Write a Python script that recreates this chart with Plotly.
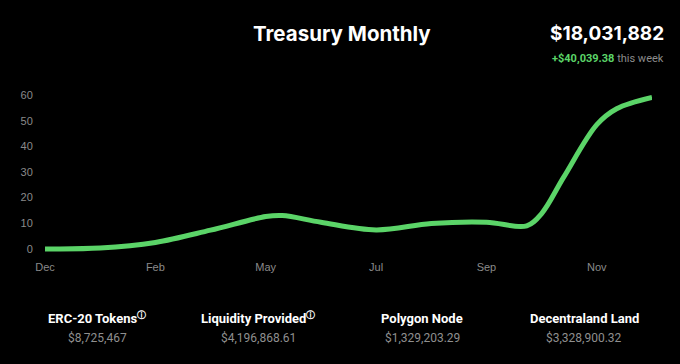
import plotly.graph_objects as go

# ---- data ----
month_pos = [0, 1, 2, 3, 4, 4.3, 5, 6, 7, 8, 8.73, 9, 9.4, 10, 10.36, 11]
treasury = [0, 0.3, 2.5, 7.3, 12.6, 13.0, 10.4, 7.4, 9.9, 10.4, 9.0, 13.8, 28, 48.5, 54.7, 59.1]
tick_pos = [0, 2, 4, 6, 8, 10]
tick_labels = ["Dec", "Feb", "May", "Jul", "Sep", "Nov"]
y_ticks = [0, 10, 20, 30, 40, 50, 60]

title_text = "Treasury Monthly"
total_text = "$18,031,882"
weekly_change = "+$40,039.38"
weekly_suffix = "this week"
asset_names = ["ERC-20 Tokens", "Liquidity Provided", "Polygon Node", "Decentraland Land"]
asset_values = ["$8,725,467", "$4,196,868.61", "$1,329,203.29", "$3,328,900.32"]
asset_info = [True, True, False, False]

GREEN = "#5bd468"
W_, H_ = 680, 364
L, R = 45, 28
T, B = 90, 110
PW, PH = W_ - L - R, H_ - T - B


def px(x):
    return (x - L) / PW


def py(y):
    return (H_ - B - y) / PH


fig = go.Figure()
fig.add_trace(go.Scatter(
    x=month_pos, y=treasury, mode="lines",
    line=dict(color=GREEN, width=5, shape="spline", smoothing=1.0),
    hoverinfo="skip", showlegend=False,
))

ann = []
ann.append(dict(text="<b>" + title_text + "</b>", x=px(342), y=py(34), xref="paper", yref="paper",
                showarrow=False, xanchor="center", yanchor="middle",
                font=dict(family="Inter, Lato, Roboto, sans-serif", size=20.5, color="white")))
ann.append(dict(text="<b>" + total_text + "</b>", x=px(666), y=py(34), xref="paper", yref="paper",
                showarrow=False, xanchor="right", yanchor="middle",
                font=dict(family="Inter, Lato, Roboto, sans-serif", size=19, color="white")))
ann.append(dict(text="<b><span style='color:%s'>%s</span></b> <span style='color:#8c8c8c'>%s</span>"
                % (GREEN, weekly_change, weekly_suffix),
                x=px(666), y=py(58), xref="paper", yref="paper",
                showarrow=False, xanchor="right", yanchor="middle",
                font=dict(family="Roboto, Liberation Sans, sans-serif", size=11, color="white")))

centers = [97, 258, 422, 584]
for cx, name, val, info in zip(centers, asset_names, asset_values, asset_info):
    label = "<b>" + name + "</b>"
    if info:
        label += "<sup><b>ⓘ</b></sup>"
    ann.append(dict(text=label, x=px(cx), y=py(318), xref="paper", yref="paper",
                    showarrow=False, xanchor="center", yanchor="middle",
                    font=dict(family="Liberation Sans Narrow, Roboto, sans-serif", size=13, color="white")))
    ann.append(dict(text=val, x=px(cx), y=py(338), xref="paper", yref="paper",
                    showarrow=False, xanchor="center", yanchor="middle",
                    font=dict(family="Liberation Sans Narrow, Roboto, sans-serif", size=12, color="#8f8f8f")))

fig.update_layout(
    width=W_, height=H_,
    margin=dict(l=L, r=R, t=T, b=B, autoexpand=False),
    paper_bgcolor="black", plot_bgcolor="black",
    annotations=ann,
    xaxis=dict(range=[0, 11], tickvals=tick_pos, ticktext=tick_labels, showgrid=False,
               zeroline=False, showline=False, ticks="outside", ticklen=3, tickcolor="black",
               tickfont=dict(family="Liberation Sans, Arial, sans-serif", size=11, color="#8a8a8a")),
    yaxis=dict(range=[-2, 62], tickvals=y_ticks, showgrid=False, zeroline=False, showline=False,
               ticks="outside", ticklen=9, tickcolor="black",
               tickfont=dict(family="Liberation Sans, Arial, sans-serif", size=11, color="#8a8a8a")),
)

fig.write_html(
    "out.html",
    config={"displayModeBar": False},
    post_script="document.body.style.margin='0';document.body.style.background='black';",
)
